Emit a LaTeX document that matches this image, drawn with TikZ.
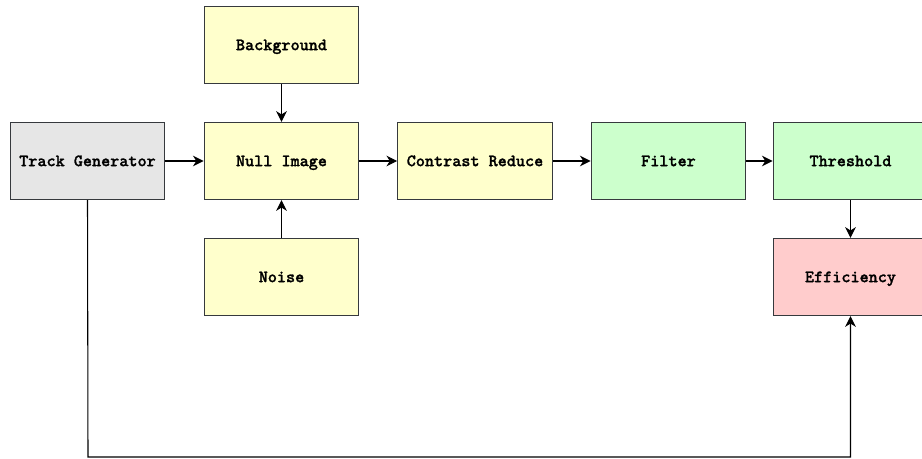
\documentclass[tikz,border=0pt]{standalone}
\usepackage{fontspec}
\newfontfamily\courfont[FakeBold=1.2]{lmmonolt10-bold.otf}
\usetikzlibrary{arrows.meta}
\definecolor{yel}{HTML}{FFFFCC}
\definecolor{gry}{HTML}{E6E6E6}
\definecolor{grn}{HTML}{CCFFCC}
\definecolor{rd}{HTML}{FFCCCC}
\definecolor{edgec}{HTML}{36393D}
\begin{document}
\begin{tikzpicture}[x=0.75pt,y=-0.75pt,
  blk/.style={draw=edgec,line width=0.8pt,minimum width=116pt,minimum height=58pt,inner sep=0pt,
    text height=2.0ex,text depth=0.2ex,
    font=\fontsize{13}{15}\selectfont\courfont},
  conn/.style={draw=black,line width=0.8pt,-{Stealth[length=8pt,width=8pt,inset=2.5pt]}}]
\useasboundingbox (0,0) rectangle (922,459);
\clip (0,0) rectangle (922,459);
\fill[white] (0,0) rectangle (922,459);
\node[blk,fill=gry] (tg) at (87.5,161) {Track Generator};
\node[blk,fill=yel] (ni) at (281.5,161) {Null Image};
\node[blk,fill=yel] (bg) at (281.5,45) {Background};
\node[blk,fill=yel] (no) at (281.5,277) {Noise};
\node[blk,fill=yel] (cr) at (475,161) {Contrast Reduce};
\node[blk,fill=grn] (fi) at (668.5,161) {Filter};
\node[blk,fill=grn] (th) at (850.5,161) {Threshold};
\node[blk,fill=rd] (ef) at (850.5,277) {Efficiency};
\coordinate (c1) at (88,457);
\coordinate (c2) at (850.5,457);
\draw[conn] (tg) -- (ni);
\draw[conn] (bg) -- (ni);
\draw[conn] (no) -- (ni);
\draw[conn] (ni) -- (cr);
\draw[conn] (cr) -- (fi);
\draw[conn] (fi) -- (th);
\draw[conn] (th) -- (ef);
\draw[conn] (tg.south) -- (c1) -- (c2) -- (ef.south);
\end{tikzpicture}
\end{document}
